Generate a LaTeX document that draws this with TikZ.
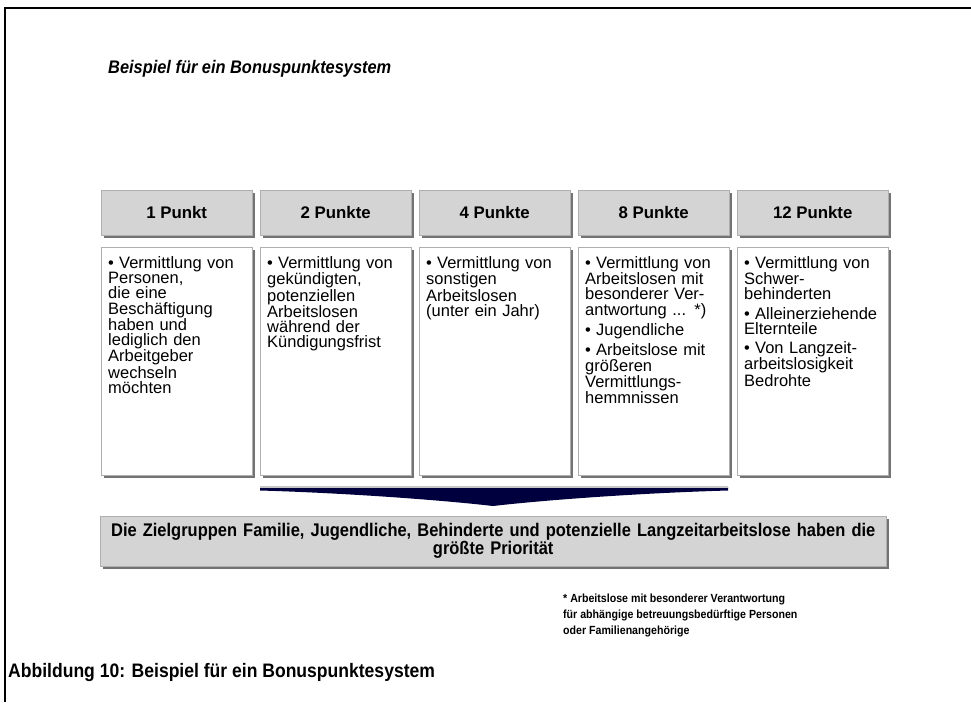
\documentclass[tikz,border=0pt]{standalone}
\usepackage{fontspec}
\setmainfont{Liberation Sans}
\newfontfamily\narrowsans[FakeStretch=0.9]{Liberation Sans}
\usetikzlibrary{shadows}
\definecolor{hdrfill}{RGB}{212,212,212}
\definecolor{boxline}{RGB}{175,175,175}
\definecolor{shadowc}{RGB}{115,115,115}
\definecolor{navy}{RGB}{0,0,62}
\newcommand{\bul}[1]{\par\noindent\hangindent=11pt\hangafter=1\makebox[11pt][l]{\textbullet}#1\par}
\newcommand{\gap}{\vspace{4pt}}
\begin{document}
\begin{tikzpicture}[x=1pt,y=-1pt,
  shad/.style={drop shadow={shadow xshift=3pt,shadow yshift=-3pt,fill=shadowc,opacity=1}},
  hdr/.style={shad,draw=boxline,fill=hdrfill,minimum width=151pt,minimum height=45pt,inner sep=0pt,
    font=\bfseries\fontsize{16.8}{18}\selectfont},
  bodybox/.style={shad,draw=boxline,fill=white,minimum width=151pt,minimum height=228pt,inner sep=0pt},
  bodytext/.style={anchor=north west,text width=145pt,align=left,inner sep=0pt,
    font=\fontsize{16.5}{15.2}\selectfont}]
\useasboundingbox (0,0) rectangle (971,702);
\fill[white] (0,0) rectangle (971,702);
\draw[line width=2pt] (5,702) -- (5,8) -- (972,8);
\node[anchor=base west,inner sep=0pt,font=\narrowsans\bfseries\itshape\fontsize{18.2}{20}\selectfont] (title) at (108,73) {Beispiel für ein Bonuspunktesystem};
\foreach \i/\t in {0/1 Punkt,1/2 Punkte,2/4 Punkte,3/8 Punkte,4/12 Punkte}{
  \node[hdr,anchor=north west] (h\i) at ({101+159*\i},190) {\t};
  \node[bodybox,anchor=north west] (b\i) at ({101+159*\i},247) {};
}
\node[bodytext] (t0) at ([shift={(7,6)}]b0.north west) {\bul{Vermittlung von\\Personen,\\die eine\\Beschäftigung\\haben und\\lediglich den\\Arbeitgeber\\wechseln\\möchten}};
\node[bodytext] (t1) at ([shift={(7,6)}]b1.north west) {\bul{Vermittlung von\\gekündigten,\\potenziellen\\Arbeitslosen\\während der\\Kündigungsfrist}};
\node[bodytext] (t2) at ([shift={(7,6)}]b2.north west) {\bul{Vermittlung von\\sonstigen\\Arbeitslosen\\(unter ein Jahr)}};
\node[bodytext] (t3) at ([shift={(7,6)}]b3.north west) {\bul{Vermittlung von\\Arbeitslosen mit\\besonderer Ver-\\antwortung ... *)}\gap\bul{Jugendliche}\gap\bul{Arbeitslose mit\\größeren\\Vermittlungs-\\hemmnissen}};
\node[bodytext] (t4) at ([shift={(7,6)}]b4.north west) {\bul{Vermittlung von\\Schwer-\\behinderten}\gap\bul{Alleinerziehende\\Elternteile}\gap\bul{Von Langzeit-\\arbeitslosigkeit\\Bedrohte}};
% arrow
\coordinate (al) at (260,487);
\coordinate (ar) at (728,487);
\coordinate (tip) at (493,506);
\fill[navy] (al) -- (ar) -- (728,490.5) .. controls (640,493) and (545,500) .. (tip) .. controls (441,500) and (346,493) .. (260,490.5) -- cycle;
\draw[line width=1.2pt,gray!45] (al) -- (ar);
% bottom box
\node[shad,draw=boxline,fill=hdrfill,anchor=north west,minimum width=786pt,minimum height=50pt,inner sep=0pt,
  text width=782pt,align=center,font=\narrowsans\bfseries\fontsize{18.3}{17}\selectfont] (bottom) at (100,516)
  {Die Zielgruppen Familie, Jugendliche, Behinderte und potenzielle Langzeitarbeitslose haben die\\größte Priorität};
\node[anchor=north west,inner sep=0pt,align=left,font=\narrowsans\bfseries\fontsize{11.8}{16}\selectfont] (fn) at (563,594)
  {* Arbeitslose mit besonderer Verantwortung\\für abhängige betreuungsbedürftige Personen\\oder Familienangehörige};
\node[anchor=base west,inner sep=0pt,font=\narrowsans\bfseries\fontsize{19.5}{20}\selectfont] (cap) at (8,677) {Abbildung 10: Beispiel für ein Bonuspunktesystem};
\end{tikzpicture}
\end{document}
